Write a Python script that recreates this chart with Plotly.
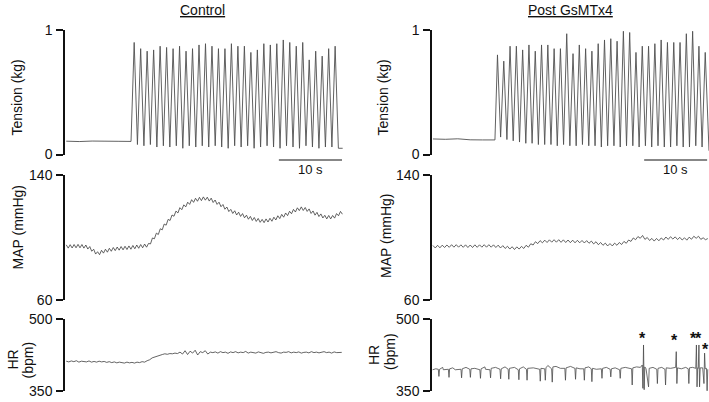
import numpy as np
import plotly.graph_objects as go

# ---- data ------------------------------------------------------------------

# Tension (kg): resting baseline, then one peak + following trough per contraction
tension_ctrl_base = [0.107, 0.104, 0.108, 0.105, 0.106, 0.105]
tension_ctrl_onset = 10.3        # s, stimulation starts
tension_ctrl_first_peak = 10.8   # s
tension_ctrl_period = 1.026      # s
tension_ctrl_peaks = [0.90, 0.85, 0.83, 0.84, 0.87, 0.86, 0.85, 0.87, 0.83, 0.85, 0.88,
                      0.89, 0.87, 0.85, 0.85, 0.89, 0.87, 0.87, 0.82, 0.84, 0.89, 0.88,
                      0.89, 0.92, 0.90, 0.87, 0.90, 0.76, 0.83, 0.79, 0.85, 0.87]
tension_ctrl_troughs = [0.08, 0.07, 0.08, 0.06, 0.07, 0.06, 0.07, 0.05, 0.07, 0.06, 0.07,
                        0.06, 0.07, 0.06, 0.05, 0.07, 0.06, 0.07, 0.05, 0.06, 0.07, 0.06,
                        0.05, 0.07, 0.06, 0.05, 0.07, 0.06, 0.05, 0.06, 0.06, 0.05]
tension_ctrl_end = (43.8, 0.05)

tension_post_base = [0.125, 0.122, 0.126, 0.118, 0.117, 0.117]
tension_post_onset = 9.9
tension_post_first_peak = 10.3
tension_post_period = 1.0
tension_post_peaks = [0.80, 0.75, 0.87, 0.87, 0.84, 0.88, 0.83, 0.88, 0.88, 0.85, 0.85,
                      0.97, 0.81, 0.88, 0.85, 0.83, 0.89, 0.92, 0.93, 0.91, 0.99, 0.98,
                      0.82, 0.87, 0.87, 0.89, 0.92, 0.90, 0.90, 0.90, 0.97, 0.99, 0.87, 0.82]
tension_post_troughs = [0.14, 0.12, 0.11, 0.10, 0.09, 0.09, 0.08, 0.08, 0.08, 0.07, 0.08,
                        0.07, 0.07, 0.08, 0.07, 0.07, 0.06, 0.07, 0.07, 0.06, 0.07, 0.07,
                        0.06, 0.07, 0.06, 0.07, 0.06, 0.06, 0.07, 0.06, 0.06, 0.07, 0.06, 0.03]
tension_post_end = (43.9, 0.03)

# MAP (mmHg), sampled every half ripple
map_ctrl_dt = 0.31
map_ctrl = [
    95.3, 93.2, 95.4, 93.3, 95.5, 93.4, 95.6, 93.4, 95.5, 93.2, 95.2, 92.6,
    94.2, 91.2, 92.5, 89.4, 90.9, 89.0, 91.8, 90.0, 92.5, 90.6, 93.1, 91.2,
    93.6, 91.6, 93.9, 91.9, 94.2, 92.1, 94.4, 92.3, 94.6, 92.5, 94.9, 92.8,
    95.2, 93.1, 95.5, 93.4, 95.8, 93.8, 96.2, 95.9, 99.7, 99.2, 102.8, 101.9,
    105.6, 104.9, 108.6, 107.9, 111.6, 110.9, 114.4, 113.6, 116.9, 115.7, 119.1, 117.8,
    120.9, 119.6, 122.6, 121.2, 124.2, 122.5, 125.1, 123.2, 125.7, 123.6, 126.0, 123.9,
    125.8, 123.3, 125.2, 122.4, 124.0, 121.2, 122.6, 119.7, 121.1, 118.1, 119.5, 116.6,
    118.0, 115.4, 117.1, 114.4, 116.2, 113.5, 115.3, 112.6, 114.3, 111.7, 113.5, 110.9,
    112.8, 110.3, 112.2, 109.7, 111.6, 109.5, 111.9, 109.9, 112.3, 110.4, 113.0, 111.2,
    113.9, 112.1, 114.8, 113.0, 115.7, 114.0, 116.8, 115.2, 118.0, 116.3, 119.0, 117.2,
    119.6, 117.3, 119.2, 116.7, 118.3, 115.4, 117.0, 114.3, 116.1, 113.4, 115.1, 112.5,
    114.2, 111.9, 114.1, 111.9, 114.1, 112.4, 115.3, 113.9, 116.7, 114.9,
]
map_post_dt = 0.37
map_post = [
    94.9, 93.3, 95.0, 93.4, 95.1, 93.6, 95.2, 93.7, 95.4, 93.8, 95.4, 93.8,
    95.3, 93.7, 95.3, 93.6, 95.2, 93.6, 95.3, 93.7, 95.3, 93.8, 95.4, 93.8,
    95.4, 93.8, 95.3, 93.6, 95.1, 93.3, 94.8, 93.0, 94.4, 92.6, 94.1, 92.3,
    94.0, 92.6, 94.3, 93.0, 95.0, 93.8, 96.0, 95.2, 97.3, 96.1, 98.0, 96.6,
    98.3, 96.8, 98.5, 97.0, 98.6, 97.0, 98.6, 96.9, 98.5, 96.8, 98.4, 96.7,
    98.3, 96.6, 98.2, 96.6, 98.1, 96.5, 98.0, 96.3, 97.7, 95.9, 97.3, 95.4,
    96.8, 95.0, 96.4, 94.6, 96.1, 94.6, 96.4, 95.0, 96.8, 95.5, 97.5, 96.3,
    98.4, 97.5, 99.7, 98.6, 100.6, 99.5, 101.3, 98.8, 100.0, 98.1, 99.4, 97.7,
    99.4, 97.9, 99.7, 98.4, 100.3, 98.8, 100.5, 99.0, 100.4, 98.7, 100.1, 98.4,
    99.8, 98.3, 100.2, 98.9, 100.8, 99.5, 100.8, 98.8, 99.8, 98.6, 99.3,
]

# HR (bpm)
hr_ctrl_dt = 0.4
hr_ctrl = [
    412, 410.5, 412.5, 411, 413, 410, 412, 411.5, 410.5, 412.5, 410, 411.5, 410, 412, 410.5, 411.5,
    409.5, 411, 409, 410.5, 408.5, 410, 409, 408, 410, 408.5, 409.5, 408, 410, 409, 411, 410,
    413, 415, 419, 421, 423.5, 425, 426, 427.5, 426.5, 428, 427.5, 429, 428,
    431, 427, 434, 426, 433, 429, 435, 425, 432, 430, 434, 427, 431,
    430, 431.5, 429, 432, 430, 431, 428.5, 431.5, 430, 432, 429.5, 431, 430, 432.5, 429, 431,
    430.5, 429, 431.5, 430, 428.5, 430.5, 431, 429.5, 430, 432, 430, 429, 431, 430.5, 432, 429.5,
    431, 430, 431.5, 429, 430.5, 431, 429.5, 432, 430, 431, 429.5, 430.5, 432, 430, 431, 429,
    431.5, 430, 431, 430.5,
]
# post GsMTx4 HR has irregular beats: (time s, bpm)
hr_post_pts = [
    (0.0, 394), (0.5, 396), (0.9, 395), (1.0, 380), (1.1, 395), (1.6, 399), (1.7, 394),
    (2.5, 395), (2.6, 378), (2.7, 396), (3.2, 398), (3.6, 394), (4.5, 395), (4.6, 377),
    (4.7, 396), (5.3, 399), (5.9, 395), (6.0, 378), (6.1, 396), (6.7, 397), (7.5, 394),
    (7.6, 376), (7.7, 396), (8.3, 400), (8.4, 395), (9.1, 394), (9.2, 377), (9.3, 397),
    (10.0, 399), (10.7, 395), (10.8, 375), (10.9, 396), (11.5, 400), (12.0, 395), (12.1, 374),
    (12.2, 397), (13.0, 399), (13.6, 394), (13.7, 373), (13.8, 396), (14.4, 400), (14.9, 395),
    (15.0, 372), (15.1, 397), (16.0, 398), (17.0, 395), (17.1, 370), (17.2, 397), (17.8, 396),
    (17.9, 372), (18.0, 398), (18.3, 403), (18.9, 396), (19.0, 368), (19.1, 400), (19.6, 401),
    (20.3, 397), (21.0, 397), (21.1, 372), (21.2, 398), (21.9, 401), (22.6, 397), (22.7, 374),
    (22.8, 398), (23.4, 396), (24.0, 396), (24.1, 372), (24.2, 398), (24.8, 400), (25.2, 396),
    (25.3, 369), (25.4, 397), (26.0, 395), (26.8, 396), (26.9, 376), (27.0, 397), (27.6, 399),
    (28.2, 395), (28.3, 379), (28.4, 396), (29.0, 398), (29.7, 394), (29.8, 376), (29.9, 397),
    (30.6, 399), (31.6, 396), (31.7, 362), (31.8, 398), (32.4, 400), (33.0, 399), (33.3, 404),
    (33.4, 355), (33.5, 446), (33.6, 352), (33.7, 400), (33.9, 396), (34.3, 358), (34.4, 397),
    (35.0, 399), (35.6, 395), (35.7, 365), (35.8, 397), (36.4, 399), (36.9, 395), (37.0, 362),
    (37.1, 398), (37.8, 397), (38.6, 399), (38.7, 432), (38.8, 365), (38.9, 398), (39.5, 396),
    (40.2, 399), (40.6, 396), (40.7, 365), (40.8, 398), (41.3, 399), (41.8, 397), (41.9, 446),
    (42.0, 358), (42.1, 398), (42.2, 397), (42.3, 446), (42.4, 358), (42.5, 398), (42.9, 398),
    (43.1, 365), (43.2, 429), (43.3, 396), (43.5, 397), (43.6, 348), (43.7, 395),
]
hr_post_star_t = [33.3, 38.4, 41.4, 42.3, 43.4]
hr_post_star_bpm = [469, 463, 469, 469, 446]

scale_bar_s = 10

# ---- style -----------------------------------------------------------------
FONT = "Liberation Sans, Arial, sans-serif"
INK = "#111111"
TRACE = "#3c3c3c"
W, H = 709, 402


def px_x(px):
    return px / W


def px_y(py):
    return 1 - py / H


COLS = {
    'ctrl': dict(domain=[px_x(65), px_x(343)], range=[-0.15, 43.85]),
    'post': dict(domain=[px_x(432), 1.0], range=[-0.1, 43.9]),
}
ROWS = {
    'tension': dict(domain=[px_y(154.5), px_y(30)], range=[0, 1], ticks=[0, 1]),
    'map': dict(domain=[px_y(300), px_y(175)], range=[60, 140], ticks=[60, 140]),
    'hr': dict(domain=[px_y(390.7), px_y(319.3)], range=[350, 500], ticks=[350, 500]),
}
# axis index for each (row, column)
PANELS = [('tension', 'ctrl'), ('tension', 'post'), ('map', 'ctrl'),
          ('map', 'post'), ('hr', 'ctrl'), ('hr', 'post')]


def axis_ids(row, col):
    n = PANELS.index((row, col)) + 1
    s = '' if n == 1 else str(n)
    return 'x' + s, 'y' + s


def tension_series(base, onset, first_peak, period, peaks, troughs, end):
    t = list(np.linspace(0.05, onset, len(base)))
    v = list(base)
    for i, (p, tr) in enumerate(zip(peaks, troughs)):
        tp = first_peak + i * period
        t += [tp, tp + period / 2]
        v += [p, tr]
    t.append(end[0])
    v.append(end[1])
    return t, v


def add_line(fig, row, col, t, v, width=0.8, color=TRACE):
    xa, ya = axis_ids(row, col)
    fig.add_trace(go.Scatter(
        x=t, y=v, mode='lines', xaxis=xa, yaxis=ya,
        line=dict(color=color, width=width),
        showlegend=False, hoverinfo='skip'
    ))


fig = go.Figure()

t, v = tension_series(tension_ctrl_base, tension_ctrl_onset, tension_ctrl_first_peak,
                      tension_ctrl_period, tension_ctrl_peaks, tension_ctrl_troughs,
                      tension_ctrl_end)
add_line(fig, 'tension', 'ctrl', t, v, 0.9, '#505050')
t, v = tension_series(tension_post_base, tension_post_onset, tension_post_first_peak,
                      tension_post_period, tension_post_peaks, tension_post_troughs,
                      tension_post_end)
add_line(fig, 'tension', 'post', t, v, 0.9, '#505050')

add_line(fig, 'map', 'ctrl', 0.05 + np.arange(len(map_ctrl)) * map_ctrl_dt, map_ctrl)
add_line(fig, 'map', 'post', 0.05 + np.arange(len(map_post)) * map_post_dt, map_post)

add_line(fig, 'hr', 'ctrl', 0.05 + np.arange(len(hr_ctrl)) * hr_ctrl_dt, hr_ctrl)
add_line(fig, 'hr', 'post', [p[0] for p in hr_post_pts], [p[1] for p in hr_post_pts],
         0.8, '#4a4a4a')

layout = dict(
    width=W, height=H,
    margin=dict(l=0, r=0, t=0, b=0, pad=0, autoexpand=False),
    paper_bgcolor='white', plot_bgcolor='white',
    font=dict(family=FONT, size=14, color=INK),
    hovermode=False,
    showlegend=False,
)
for row, col in PANELS:
    xa, ya = axis_ids(row, col)
    r, c = ROWS[row], COLS[col]
    layout[xa.replace('x', 'xaxis')] = dict(
        domain=c['domain'], range=c['range'], anchor=ya, visible=False,
        automargin=False, fixedrange=True)
    layout[ya.replace('y', 'yaxis')] = dict(
        domain=r['domain'], range=r['range'], anchor=xa, automargin=False,
        showline=True, linecolor=INK, linewidth=1.5,
        ticks='outside', ticklen=7, tickwidth=1.5, tickcolor=INK,
        tickvals=r['ticks'], ticktext=[str(k) for k in r['ticks']],
        tickfont=dict(size=14, color=INK), ticklabelstandoff=1,
        showgrid=False, zeroline=False, fixedrange=True)
fig.update_layout(layout)

annotations = []


def label(text, x, y, angle=0, size=14, **kw):
    annotations.append(dict(
        text=text, x=px_x(x), y=px_y(y), xref='paper', yref='paper',
        showarrow=False, textangle=angle, font=dict(size=size, color=INK),
        xanchor='center', yanchor='middle', **kw))


label('<u>Control</u>', 202, 10)
label('<u>Post GsMTx4</u>', 570, 10)
label('Tension (kg)', 16.5, 98, -90)
label('Tension (kg)', 382.5, 98, -90)
label('MAP (mmHg)', 17.5, 227, -90)
label('MAP (mmHg)', 386, 236, -90)
label('HR', 12.5, 360, -90)
label('(bpm)', 27.5, 360, -90)
label('HR', 374, 355, -90)
label('(bpm)', 390, 352, -90)

# 10 s scale bars under the tension traces
for col, start in (('ctrl', 33.7), ('post', 33.6)):
    xa, _ = axis_ids('tension', col)
    fig.add_shape(type='line', xref=xa, yref='paper',
                  x0=start, x1=start + scale_bar_s, y0=px_y(160), y1=px_y(160),
                  line=dict(color=INK, width=1.2))
    annotations.append(dict(
        text=f'{scale_bar_s} s', x=start + scale_bar_s / 2, y=px_y(170),
        xref=xa, yref='paper', showarrow=False, font=dict(size=13, color=INK),
        xanchor='center', yanchor='middle'))

# asterisks over the ectopic beats
xa, ya = axis_ids('hr', 'post')
for t_star, bpm in zip(hr_post_star_t, hr_post_star_bpm):
    annotations.append(dict(
        text='<b>*</b>', x=t_star, y=bpm, xref=xa, yref=ya, showarrow=False,
        font=dict(size=16, color=INK), xanchor='center', yanchor='middle', yshift=-4))

fig.update_layout(annotations=annotations)

# the page body has a default 8px margin; drop it so the figure fills the window
fig.write_html("out.html", config={'displayModeBar': False},
               post_script="document.body.style.margin='0';")
